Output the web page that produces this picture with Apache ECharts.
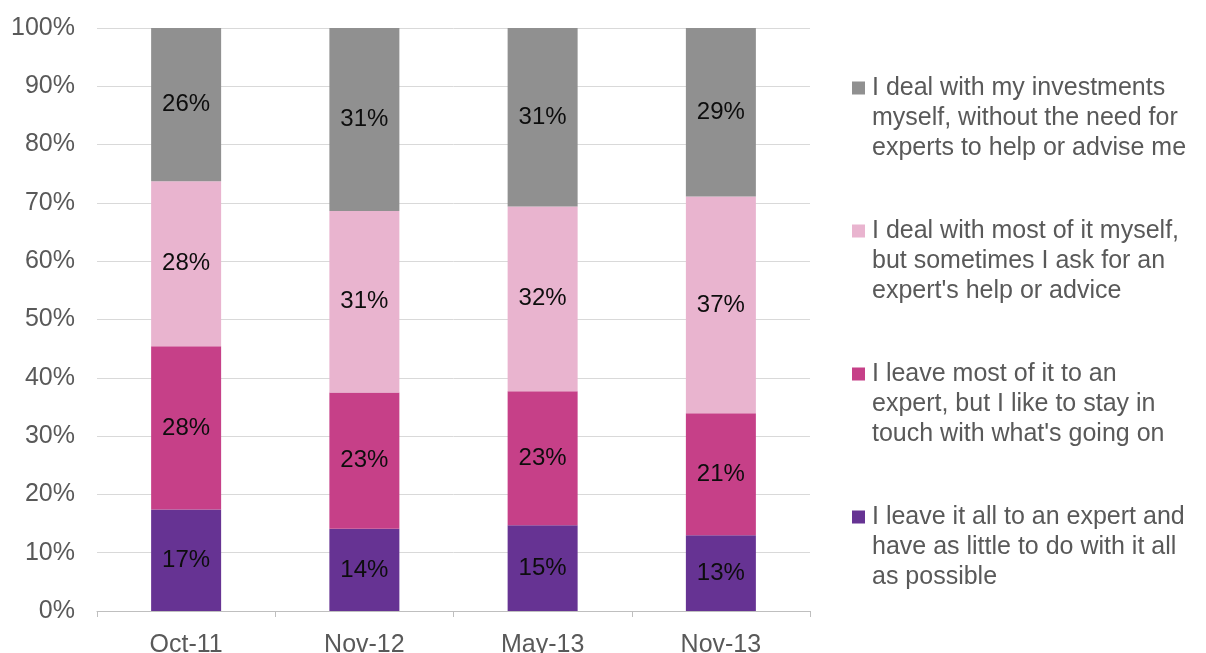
<!DOCTYPE html>
<html>
<head>
<meta charset="utf-8">
<script src="https://cdn.jsdelivr.net/npm/echarts@6/dist/echarts.min.js"></script>
<style>
    html, body { margin: 0; padding: 0; background: #fff; }
    #chart { width: 1206px; height: 653px; }
</style>
</head>
<body>
<div id="chart"></div>
<script>
// survey waves
const categories = ['Oct-11', 'Nov-12', 'May-13', 'Nov-13'];

// shares (bottom to top), percent
const allToExpert = [17.4, 14.1, 14.7, 13.0];
const mostToExpert = [28.0, 23.4, 23.0, 20.9];
const mostMyself = [28.3, 31.1, 31.7, 37.2];
const allMyself = [26.3, 31.4, 30.6, 28.9];

const yTicks = [0, 10, 20, 30, 40, 50, 60, 70, 80, 90, 100];

const seriesNames = [
    'I leave it all to an expert and\nhave as little to do with it all\nas possible',
    'I leave most of it to an\nexpert, but I like to stay in\ntouch with what\'s going on',
    'I deal with most of it myself,\nbut sometimes I ask for an\nexpert\'s help or advice',
    'I deal with my investments\nmyself, without the need for\nexperts to help or advise me'
];
const seriesValues = [allToExpert, mostToExpert, mostMyself, allMyself];
const colors = ['#663393', '#c64088', '#e9b4cf', '#909090'];

const fontFamily = 'Liberation Sans, Arial, sans-serif';

// legend marker: a square on the first text line, inside a tall 13x90 box
const legendIcon = 'path://M0,0L0.01,0L0.01,0.01ZM0,8.5L13,8.5L13,21.5L0,21.5ZM0,89.99L0.01,89.99L0.01,90Z';

let myChart = echarts.init(document.getElementById('chart'));

myChart.setOption({
    animation: false,
    color: colors,
    textStyle: { fontFamily: fontFamily },
    grid: { left: 97, right: 396, top: 28, bottom: 42, outerBoundsMode: 'none', containLabel: false },
    legend: {
        orient: 'vertical',
        left: 852,
        top: 73,
        padding: 0,
        itemWidth: 13,
        itemHeight: 90,
        itemGap: 53,
        icon: legendIcon,
        // gray first, purple last, like the stack seen from the top
        data: seriesNames.slice().reverse(),
        textStyle: {
            color: '#595959',
            fontSize: 25,
            lineHeight: 30,
            fontFamily: fontFamily,
            padding: [0, 0, 0, 2]
        }
    },
    xAxis: {
        type: 'category',
        data: categories,
        axisLine: { lineStyle: { color: '#bfbfbf', width: 1 } },
        axisTick: { show: true, length: 6, lineStyle: { color: '#bfbfbf' } },
        axisLabel: { color: '#595959', fontSize: 25, margin: 22, fontFamily: fontFamily }
    },
    yAxis: {
        type: 'value',
        min: yTicks[0],
        max: yTicks[yTicks.length - 1],
        interval: yTicks[1] - yTicks[0],
        axisLine: { show: false },
        axisTick: { show: false },
        splitLine: { lineStyle: { color: '#d9d9d9', width: 1 } },
        axisLabel: {
            color: '#595959',
            fontSize: 25,
            margin: 22,
            fontFamily: fontFamily,
            formatter: '{value}%'
        }
    },
    series: seriesNames.map(function (name, i) {
        return {
            name: name,
            type: 'bar',
            stack: 'total',
            barWidth: 70,
            data: seriesValues[i],
            label: {
                show: true,
                position: 'inside',
                color: '#0d0d0d',
                fontSize: 24,
                fontFamily: fontFamily,
                formatter: function (p) { return Math.round(p.value) + '%'; }
            }
        };
    })
});
</script>
</body>
</html>
